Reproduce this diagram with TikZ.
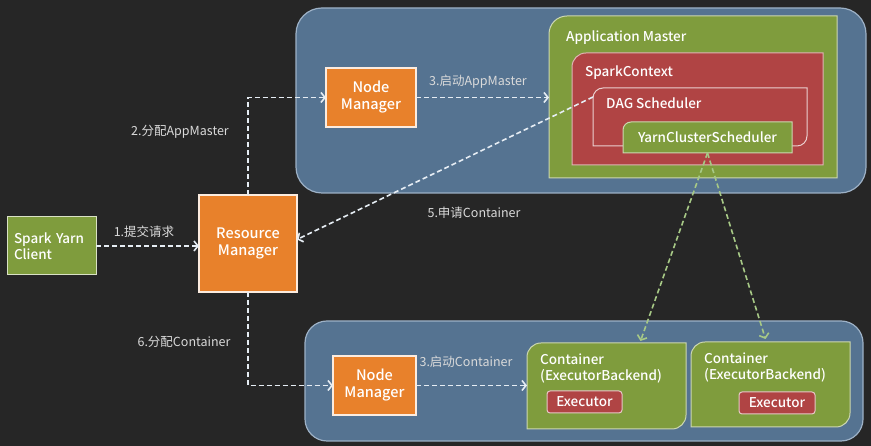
\documentclass[tikz,border=0pt]{standalone}
\usepackage{fontspec}
\setmainfont{Noto Sans CJK SC}
\newfontfamily\medfont{Noto Sans CJK SC Medium}
\usepackage{xcolor}
\usepackage{tikz}
\usetikzlibrary{arrows.meta,positioning,calc}

\definecolor{bgdark}{HTML}{262626}
\definecolor{panelblue}{HTML}{557391}
\definecolor{panelrim}{HTML}{9DB1C6}
\definecolor{nmorange}{HTML}{E8812B}
\definecolor{amgreen}{HTML}{7F9C3D}
\definecolor{scred}{HTML}{B04444}
\definecolor{labelgray}{HTML}{DADADA}
\definecolor{flowwhite}{HTML}{E6EDF4}
\definecolor{flowgreen}{HTML}{A7C986}

% corner-rounded shapes drawn round an empty node
\newcommand{\roundtl}[3]{\path[#1] (#2.south west) -- ([yshift=-#3]#2.north west) arc[start angle=180,end angle=90,radius=#3] -- (#2.north east) -- (#2.south east) -- cycle;}
\newcommand{\roundtlbr}[3]{\path[#1] (#2.south west) -- ([yshift=-#3]#2.north west) arc[start angle=180,end angle=90,radius=#3] -- (#2.north east) -- ([yshift=#3]#2.south east) arc[start angle=0,end angle=-90,radius=#3] -- ([xshift=-#3]#2.south east) -- cycle;}

\begin{document}
\begin{tikzpicture}[
  x=1pt, y=1pt,
  font=\fontsize{12.5}{14}\selectfont,
  area/.style={inner sep=0pt, outer sep=0pt},
  panel/.style={area, draw=panelrim, line width=1.2pt, fill=panelblue, rounded corners=26pt},
  nmbox/.style={area, draw=white!85!nmorange, line width=1.2pt, fill=nmorange, text=white, align=center, font=\fontsize{14.5}{17}\selectfont\medfont},
  clientbox/.style={area, draw=white!70!amgreen, line width=1pt, fill=amgreen, text=white, align=left, font=\fontsize{13.5}{16}\selectfont\medfont},
  exbox/.style={area, draw=white!70!scred, line width=1pt, fill=scred, text=white, rounded corners=3pt, font=\fontsize{13.5}{15}\selectfont\medfont},
  boxtext/.style={text=white, anchor=west, inner sep=0pt, align=left, font=\fontsize{13.5}{16.5}\selectfont\medfont},
  steplabel/.style={text=labelgray, inner sep=1pt},
  flow/.style={draw=flowwhite, line width=1.6pt, dash pattern=on 5pt off 3pt, -{Straight Barb[length=4pt,width=10pt,line width=1.6pt]}},
  greenflow/.style={flow, draw=flowgreen},
]
\fill[bgdark] (0,0) rectangle (871,446);
\useasboundingbox (0,0) rectangle (871,446);

% panels
\node[panel, minimum width=570, minimum height=185] (toppanel) at (581,345.5) {};
\node[panel, minimum width=558, minimum height=120, rounded corners=22pt] (botpanel) at (584,65) {};

% application master stack
\node[area, minimum width=288, minimum height=162] (am) at (693,349) {};
\roundtl{fill=amgreen, draw=white!60!amgreen, line width=1pt}{am}{18pt}
\node[boxtext] at (566,408) {Application Master};
\node[area, minimum width=251, minimum height=112] (sc) at (697.5,337) {};
\roundtl{fill=scred, draw=white!60!scred, line width=1pt}{sc}{14pt}
\node[boxtext] at (585,373) {SparkContext};
\node[area, minimum width=214, minimum height=58] (dag) at (700,329) {};
\roundtlbr{draw=white!75!scred, line width=1pt}{dag}{10pt}
\node[boxtext] at (606,343) {DAG Scheduler};
\node[area, minimum width=169, minimum height=31] (ycs) at (707.5,308.5) {};
\roundtl{fill=amgreen, draw=white!60!amgreen, line width=1pt}{ycs}{8pt}
\node[text=white, font=\fontsize{13.5}{15}\selectfont\medfont] at (ycs) {YarnClusterScheduler};

% containers
\node[area, minimum width=159, minimum height=86] (cont1) at (606.5,60) {};
\roundtlbr{fill=amgreen, draw=white!60!amgreen, line width=1pt}{cont1}{14pt}
\node[boxtext] at (540,77.5) {Container\\(ExecutorBackend)};
\node[exbox, minimum width=75, minimum height=22] (exec1) at (584.5,44) {Executor};
\node[area, minimum width=159, minimum height=85] (cont2) at (770.5,61.5) {};
\roundtlbr{fill=amgreen, draw=white!60!amgreen, line width=1pt}{cont2}{14pt}
\node[boxtext] at (704,78.5) {Container\\(ExecutorBackend)};
\node[exbox, minimum width=76, minimum height=22] (exec2) at (777,43) {Executor};

% main boxes
\node[clientbox, minimum width=89, minimum height=58, text width=75] (client) at (51.5,200) {Spark Yarn\\Client};
\node[nmbox, minimum width=98, minimum height=97] (rm) at (248,202.5) {Resource\\Manager};
\node[nmbox, minimum width=90, minimum height=59] (nm1) at (371,348.5) {Node\\Manager};
\node[nmbox, minimum width=83, minimum height=59] (nm2) at (374.5,60.5) {Node\\Manager};

% flows
\draw[flow] (client.east) -- (client.east -| rm.west);
\node[steplabel] at (144,214) {1.提交请求};
\draw[flow] (rm.north) |- (nm1.west);
\node[steplabel] at (180,314) {2.分配AppMaster};
\draw[flow] (nm1.east) -- (nm1.east -| am.west);
\node[steplabel] at (478,364) {3.启动AppMaster};
\coordinate (dagstart) at ([yshift=-9pt]dag.north west);
\draw[flow] (dagstart) -- ([yshift=4pt]rm.east);
\node[steplabel] at (474,233) {5.申请Container};
\draw[flow] (rm.south) |- (nm2.west);
\node[steplabel] at (184,104) {6.分配Container};
\draw[flow] (nm2.east) -- (nm2.east -| cont1.west);
\node[steplabel] at (466,84) {3.启动Container};
\draw[greenflow] (ycs.south) -- ([xshift=34pt,yshift=2pt]cont1.north);
\draw[greenflow] (ycs.south) -- ([xshift=-5pt,yshift=3pt]cont2.north);
\end{tikzpicture}
\end{document}
